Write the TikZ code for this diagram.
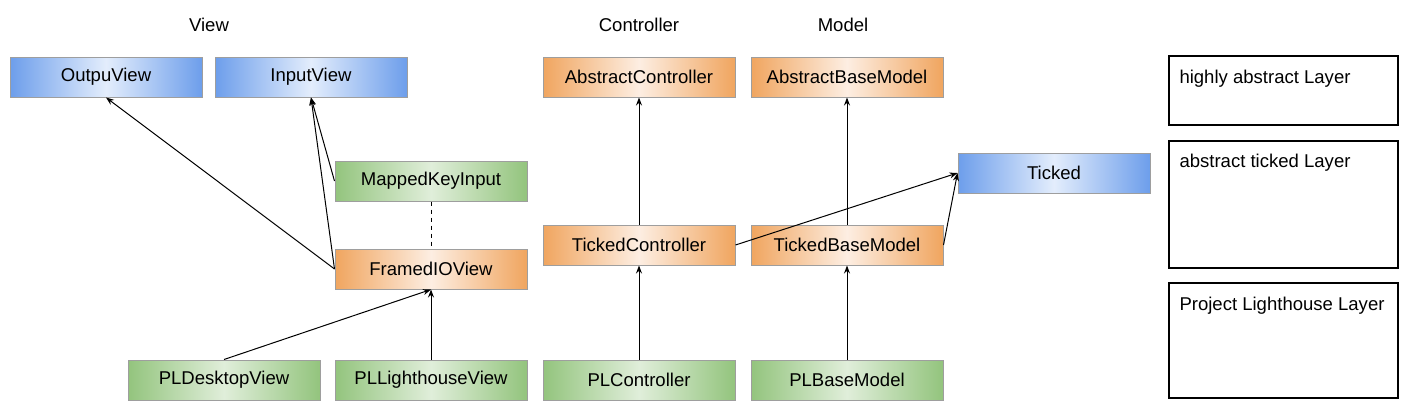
\documentclass[tikz,border=0pt]{standalone}
\usepackage{fontspec}
\setmainfont{Liberation Sans}
\usetikzlibrary{arrows.meta}

\definecolor{blueD}{HTML}{6D9EEB}
\definecolor{blueL}{HTML}{E3EDFC}
\definecolor{orangeD}{HTML}{F0A55F}
\definecolor{orangeL}{HTML}{FDEEE2}
\definecolor{greenD}{HTML}{93C47D}
\definecolor{greenL}{HTML}{E0EEDA}
\definecolor{edge}{HTML}{9E9E9E}

\begin{document}
\begin{tikzpicture}[x=0.75pt,y=-0.75pt,line width=0.75pt,>={Stealth[length=6pt,width=4.5pt]},
  font=\fontsize{13.9}{16}\selectfont,
  cls/.style={draw=edge,minimum width=144pt,minimum height=30pt,inner sep=0pt},
  iface/.style={cls,left color=blueD,right color=blueD,middle color=blueL},
  abst/.style={cls,left color=orangeD,right color=orangeD,middle color=orangeL},
  impl/.style={cls,left color=greenD,right color=greenD,middle color=greenL},
  layer/.style={draw,line width=0.9pt}]
  \useasboundingbox (0,0) rectangle (1414,414);
  % titulos
  \node (tview) at (209,25) {View};
  \node (tctrl) at (639,25) {Controller};
  \node (tmodel) at (843,25) {Model};
  % capa abstracta
  \node[iface] (outv) at (106,77) {OutpuView};
  \node[iface] (inv) at (311,77) {InputView};
  \node[abst] (actrl) at (639,77) {AbstractController};
  \node[abst] (amodel) at (847,77) {AbstractBaseModel};
  % capa ticked
  \node[impl] (mki) at (431,181) {MappedKeyInput};
  \node[abst] (fiov) at (431,269) {FramedIOView};
  \node[abst] (tctrlb) at (639,245) {TickedController};
  \node[abst] (tmodelb) at (847,245) {TickedBaseModel};
  \node[iface] (ticked) at (1054,173) {Ticked};
  % capa lighthouse
  \node[impl] (pldv) at (224,380) {PLDesktopView};
  \node[impl] (pllv) at (431,380) {PLLighthouseView};
  \node[impl] (plc) at (639,380) {PLController};
  \node[impl] (plm) at (847,380) {PLBaseModel};
  % flechas
  \draw[->] (fiov.west) -- (outv.south);
  \draw[->] (fiov.west) -- (inv.south);
  \draw[->] (mki.west) -- (inv.south);
  \draw[dashed] (mki.south) -- (fiov.north);
  \draw[->] (pldv.north) -- (fiov.south);
  \draw[->] (pllv.north) -- (fiov.south);
  \draw[->] (tctrlb.north) -- (actrl.south);
  \draw[->] (plc.north) -- (tctrlb.south);
  \draw[->] (tmodelb.north) -- (amodel.south);
  \draw[->] (plm.north) -- (tmodelb.south);
  \draw[->] (tctrlb.east) -- (ticked.west);
  \draw[->] (tmodelb.east) -- (ticked.west);
  % leyenda
  \draw[layer] (1169,56) rectangle (1398,125);
  \draw[layer] (1169,141) rectangle (1398,268);
  \draw[layer] (1169,283) rectangle (1398,398);
  \node[anchor=base west,inner sep=0pt] (lhigh) at (1179,83) {highly abstract Layer};
  \node[anchor=base west,inner sep=0pt] (ltick) at (1179,167) {abstract ticked Layer};
  \node[anchor=base west,inner sep=0pt] (lpl) at (1179,310) {Project Lighthouse Layer};
\end{tikzpicture}
\end{document}
